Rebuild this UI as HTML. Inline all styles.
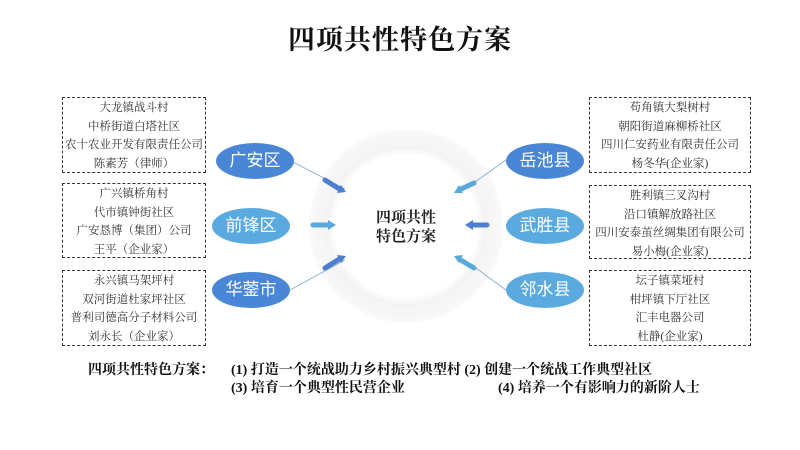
<!DOCTYPE html>
<html><head><meta charset="utf-8"><style>
body{margin:0;width:800px;height:450px;background:#fff;position:relative;overflow:hidden;font-family:"Liberation Serif","Noto Serif CJK SC",serif;}
.t{position:absolute;left:0;width:800px;top:18px;text-align:center;font-size:27px;font-weight:bold;color:#111;letter-spacing:1px}
.box{position:absolute;border:1.3px dashed #333;font-size:11.5px;line-height:18.5px;text-align:center;color:#333;box-sizing:border-box;padding-top:1px;white-space:nowrap}
.e{position:absolute;width:78px;height:36px;border-radius:50%;color:#fff;font-family:"Liberation Sans","Noto Sans CJK SC",sans-serif;font-size:17px;line-height:36px;text-align:center}
.b{position:absolute;font-size:14px;color:#111;white-space:nowrap;font-weight:bold}
</style></head><body>
<div class="t">四项共性特色方案</div>
<svg width="800" height="450" style="position:absolute;left:0;top:0">
<defs><radialGradient id="g"><stop offset="0.72" stop-color="#fff"/><stop offset="0.8" stop-color="#f4f4f4"/><stop offset="0.97" stop-color="#f8f8f8"/><stop offset="1" stop-color="#fff"/></radialGradient></defs>
<circle cx="406" cy="226" r="98" fill="url(#g)"/>
<circle cx="406" cy="226" r="72" fill="#fff"/>
<g stroke="#7fa9cf" stroke-width="0.8" fill="none">
<polyline points="293,162 345,189"/><polyline points="290,290 345,260"/>
<polyline points="506,160 465,189"/><polyline points="506,290 465,260"/>
</g>
<g stroke-width="5" stroke-linecap="round">
<line x1="325" y1="180" x2="341" y2="190" stroke="#4c7fd0"/>
<line x1="313" y1="225" x2="331" y2="225" stroke="#5aa9dd"/>
<line x1="325" y1="268" x2="341" y2="258" stroke="#4c7fd0"/>
<line x1="474" y1="183" x2="459" y2="190" stroke="#5aa9dd"/>
<line x1="487" y1="225" x2="470" y2="225" stroke="#4c7fd0"/>
<line x1="474" y1="268" x2="459" y2="259" stroke="#5aa9dd"/>
</g>
<g>
<polygon points="346,192 337,193 341,185" fill="#4c7fd0"/>
<polygon points="336,225 328,220 328,230" fill="#5aa9dd"/>
<polygon points="346,256 337,255 341,263" fill="#4c7fd0"/>
<polygon points="454,193 463,193 459,185" fill="#5aa9dd"/>
<polygon points="465,225 473,220 473,230" fill="#4c7fd0"/>
<polygon points="454,256 463,255 459,263" fill="#5aa9dd"/>
</g>
<text x="406" y="222" text-anchor="middle" font-size="15" font-weight="bold" fill="#222" font-family="Liberation Serif,Noto Serif CJK SC,serif">四项共性</text>
<text x="406" y="241" text-anchor="middle" font-size="15" font-weight="bold" fill="#222" font-family="Liberation Serif,Noto Serif CJK SC,serif">特色方案</text>
</svg>
<div class="e" style="left:216px;top:143px;background:#4a86d6">广安区</div>
<div class="e" style="left:212px;top:208px;background:#5aaae0">前锋区</div>
<div class="e" style="left:212px;top:272px;background:#4a86d6">华蓥市</div>
<div class="e" style="left:506px;top:143px;background:#4a86d6">岳池县</div>
<div class="e" style="left:506px;top:208px;background:#5aaae0">武胜县</div>
<div class="e" style="left:506px;top:272px;background:#5aaae0">邻水县</div>
<div class="box" style="left:62px;top:97px;width:144px;height:76px">大龙镇战斗村<br>中桥街道白塔社区<br>农十农业开发有限责任公司<br>陈素芳（律师）</div>
<div class="box" style="left:62px;top:183px;width:144px;height:75px">广兴镇桥角村<br>代市镇钟街社区<br>广安恳博（集团）公司<br>王平（企业家）</div>
<div class="box" style="left:62px;top:270px;width:144px;height:76px">永兴镇马架坪村<br>双河街道杜家坪社区<br>普利司德高分子材料公司<br>刘永长（企业家）</div>
<div class="box" style="left:589px;top:97px;width:162px;height:76px">苟角镇大梨树村<br>朝阳街道麻柳桥社区<br>四川仁安药业有限责任公司<br>杨冬华(企业家)</div>
<div class="box" style="left:589px;top:185px;width:162px;height:74px">胜利镇三叉沟村<br>沿口镇解放路社区<br>四川安泰茧丝绸集团有限公司<br>易小梅(企业家)</div>
<div class="box" style="left:589px;top:270px;width:162px;height:76px">坛子镇菜垭村<br>柑坪镇下厅社区<br>汇丰电器公司<br>杜静(企业家)</div>
<div class="b" style="left:88px;top:359px">四项共性特色方案：</div>
<div class="b" style="left:231px;top:359px">(1) 打造一个统战助力乡村振兴典型村 (2) 创建一个统战工作典型社区</div>
<div class="b" style="left:231px;top:377px">(3) 培育一个典型性民营企业</div>
<div class="b" style="left:498px;top:377px">(4) 培养一个有影响力的新阶人士</div>
</body></html>
